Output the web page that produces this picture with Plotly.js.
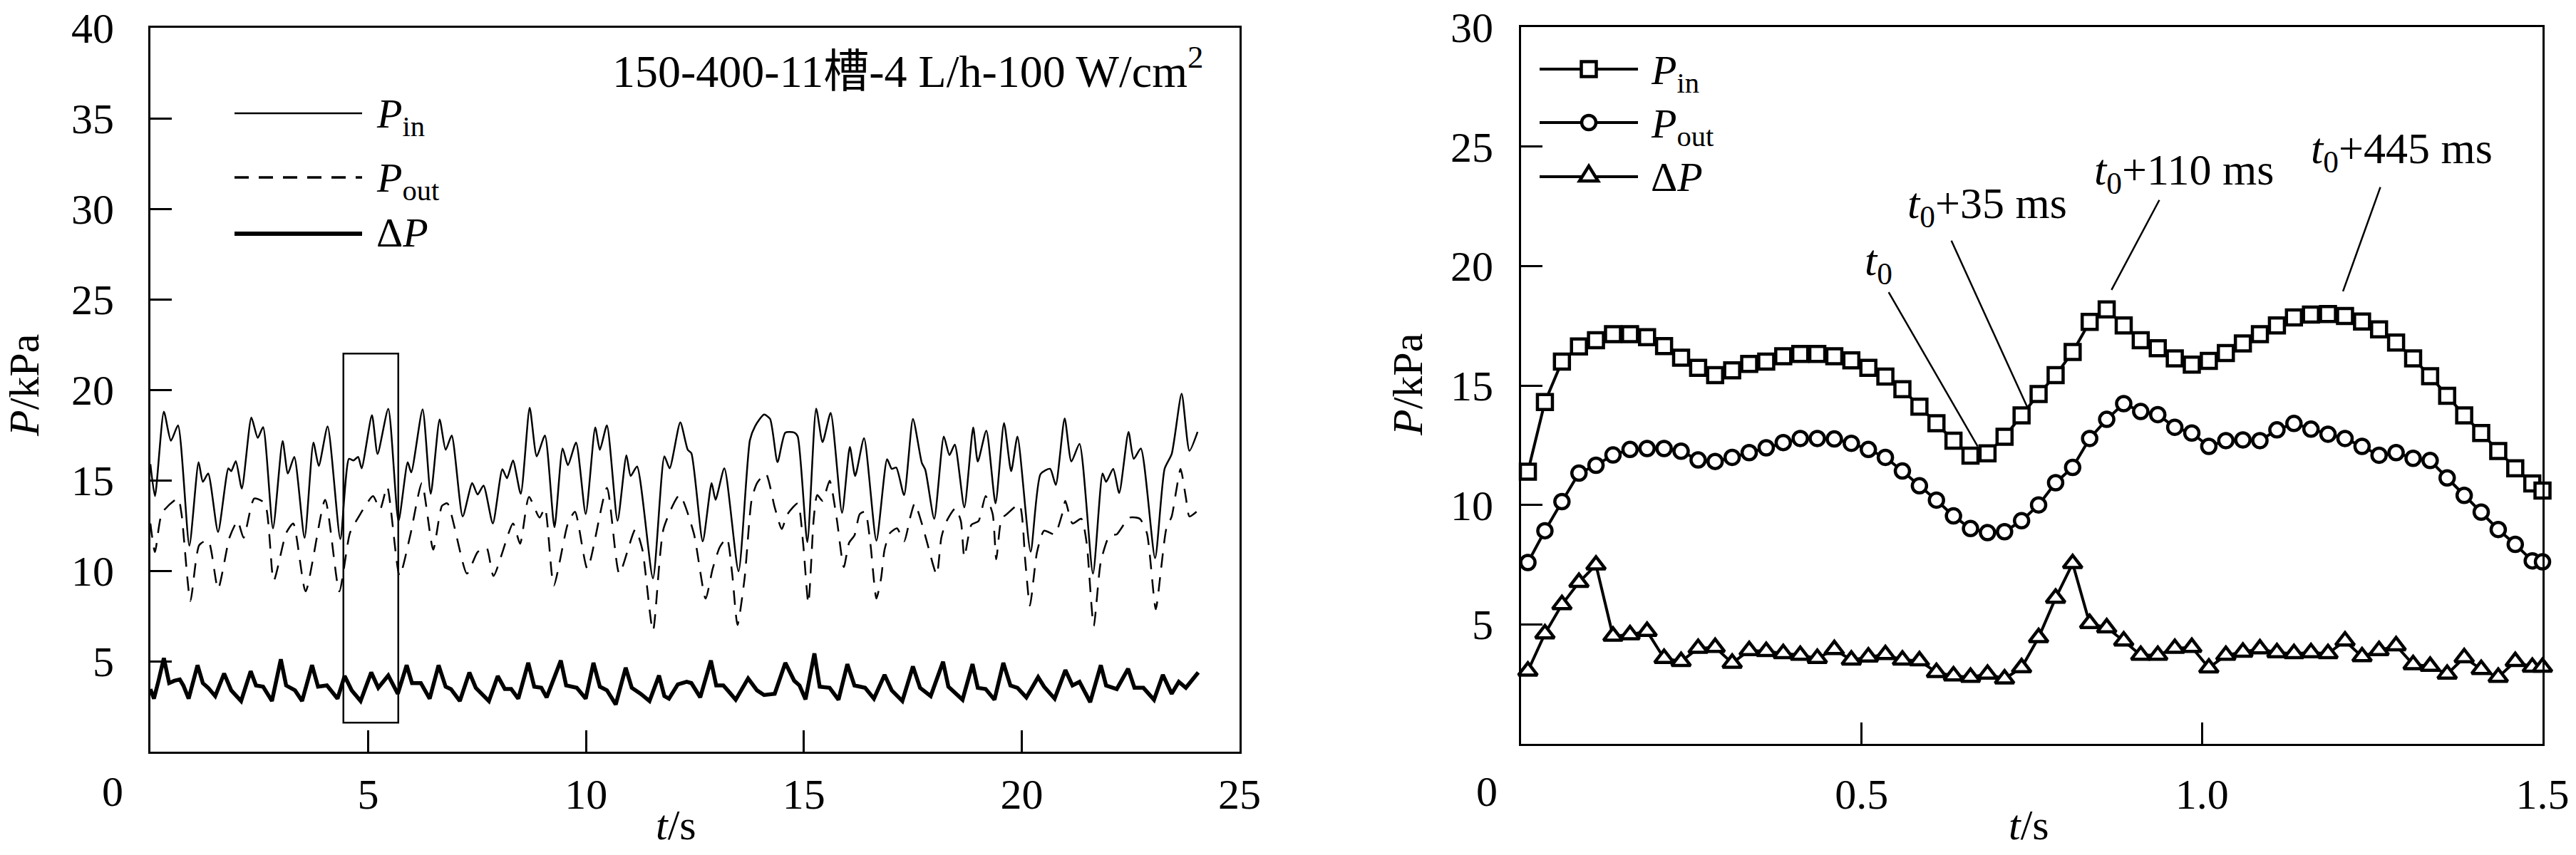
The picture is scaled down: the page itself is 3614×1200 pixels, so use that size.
<!DOCTYPE html>
<html>
<head>
<meta charset="utf-8">
<script src="https://cdn.plot.ly/plotly-3.0.1.min.js"></script>
<style>
  html, body { margin: 0; padding: 0; background: #fff; }
  #chart { width: 3614px; height: 1200px; }
</style>
</head>
<body>
<div id="chart"></div>
<script>
// ---- left panel: 24 s record (peaks and troughs) ----
const pinT = [0, 0.105, 0.309, 0.471, 0.634, 0.894, 1.106, 1.204, 1.326, 1.553, 1.790, 1.855, 1.960, 2.099, 2.318, 2.464, 2.587, 2.814, 3.035, 3.156, 3.303, 3.539, 3.742, 3.865, 4.068, 4.360, 4.557, 4.661, 4.768, 4.849, 5.085, 5.214, 5.460, 5.695, 5.906, 5.988, 6.248, 6.435, 6.639, 6.777, 6.916, 7.168, 7.387, 7.510, 7.647, 7.860, 8.079, 8.185, 8.323, 8.501, 8.706, 8.868, 9.056, 9.275, 9.462, 9.584, 9.771, 9.992, 10.211, 10.317, 10.479, 10.723, 10.926, 11.024, 11.171, 11.536, 11.798, 11.919, 12.163, 12.335, 12.418, 12.678, 12.882, 12.972, 13.175, 13.500, 13.761, 13.883, 14.086, 14.224, 14.395, 14.574, 14.778, 14.859, 15.079, 15.282, 15.429, 15.615, 15.876, 16.055, 16.177, 16.381, 16.665, 16.910, 17.016, 17.121, 17.300, 17.504, 17.707, 17.788, 17.992, 18.212, 18.341, 18.464, 18.683, 18.887, 18.992, 19.188, 19.399, 19.594, 19.758, 19.903, 20.205, 20.432, 20.652, 20.782, 20.986, 21.140, 21.327, 21.636, 21.856, 21.937, 22.100, 22.238, 22.451, 22.572, 22.735, 23.061, 23.280, 23.443, 23.671, 23.850, 24.037];
const pinV = [15.89, 14.12, 18.79, 17.18, 18.03, 11.39, 15.99, 14.91, 15.37, 12.14, 15.66, 15.5, 16.05, 14.54, 18.46, 17.34, 17.93, 12.34, 17.17, 15.37, 16.29, 11.82, 17.08, 15.79, 17.97, 11.75, 16.18, 16.09, 16.29, 15.66, 18.59, 16.45, 18.95, 12.74, 15.99, 15.43, 18.92, 14.25, 18.36, 16.68, 17.47, 13.0, 14.84, 14.21, 14.71, 12.61, 15.61, 15.11, 16.09, 14.25, 19.01, 16.32, 17.47, 12.41, 16.75, 15.83, 17.08, 13.13, 17.91, 16.68, 18.03, 12.76, 16.38, 15.24, 15.76, 9.58, 16.32, 15.66, 18.2, 16.68, 16.49, 11.62, 14.84, 13.92, 15.66, 9.97, 17.21, 18.0, 18.63, 18.39, 16.0, 17.63, 17.63, 17.41, 11.58, 18.96, 17.11, 18.72, 13.2, 16.84, 15.24, 17.32, 11.66, 16.16, 15.63, 15.7, 14.18, 18.39, 15.96, 15.57, 12.87, 17.41, 16.39, 16.97, 13.5, 17.91, 16.03, 17.74, 13.72, 18.16, 15.5, 17.41, 11.05, 15.34, 15.63, 14.74, 18.42, 16.03, 17.01, 9.84, 15.37, 14.91, 15.63, 14.29, 17.67, 16.18, 16.75, 10.7, 15.63, 16.45, 19.78, 16.62, 17.67];

const poutT = [0, 0.105, 0.268, 0.634, 0.715, 0.919, 1.122, 1.326, 1.553, 1.814, 2.001, 2.14, 2.384, 2.628, 2.831, 3.116, 3.279, 3.563, 4.011, 4.336, 4.58, 4.768, 5.11, 5.272, 5.435, 5.72, 5.964, 6.232, 6.492, 6.695, 6.818, 7.266, 7.51, 7.713, 7.876, 8.323, 8.486, 8.689, 8.933, 9.056, 9.259, 9.584, 9.747, 10.031, 10.479, 10.764, 11.13, 11.293, 11.536, 11.781, 12.147, 12.472, 12.744, 12.906, 13.069, 13.232, 13.354, 13.476, 13.639, 13.801, 13.924, 14.126, 14.331, 14.493, 14.616, 14.859, 14.981, 15.103, 15.226, 15.306, 15.429, 15.591, 15.754, 15.916, 16.039, 16.161, 16.283, 16.405, 16.527, 16.665, 16.772, 16.852, 16.975, 17.137, 17.300, 17.446, 17.544, 17.707, 17.829, 18.048, 18.155, 18.261, 18.480, 18.603, 18.683, 18.846, 19.009, 19.172, 19.334, 19.416, 19.537, 19.660, 19.944, 20.083, 20.188, 20.352, 20.514, 20.758, 20.921, 21.002, 21.165, 21.368, 21.490, 21.653, 21.816, 22.019, 22.182, 22.467, 22.711, 22.873, 23.077, 23.199, 23.321, 23.443, 23.549, 23.647, 23.768, 23.850, 24.013];
const poutV = [12.61, 11.03, 13.2, 13.99, 13.13, 8.33, 11.42, 11.68, 8.99, 11.82, 12.74, 11.82, 13.99, 13.72, 9.45, 12.08, 12.61, 8.86, 13.92, 8.86, 12.08, 12.93, 14.12, 13.39, 14.64, 9.71, 11.95, 14.84, 11.16, 13.59, 13.72, 9.84, 11.03, 11.29, 9.71, 12.61, 11.49, 14.08, 12.93, 13.46, 9.18, 12.61, 13.26, 10.11, 14.58, 9.84, 12.28, 11.16, 6.68, 12.34, 14.18, 12.08, 8.46, 10.1, 11.3, 11.8, 9.84, 7.0, 9.58, 13.92, 14.84, 15.37, 13.5, 12.3, 13.1, 13.72, 11.55, 8.2, 12.87, 14.18, 13.86, 14.97, 12.87, 10.2, 11.55, 11.95, 13.13, 13.26, 11.49, 8.46, 9.58, 11.16, 12.08, 12.34, 11.62, 13.0, 13.72, 12.61, 11.55, 9.78, 11.82, 12.67, 13.46, 12.74, 10.76, 12.54, 12.74, 14.12, 13.13, 10.63, 12.87, 13.13, 13.66, 10.5, 8.07, 11.03, 12.21, 12.01, 13.07, 13.86, 12.61, 12.87, 11.55, 6.95, 10.5, 11.95, 12.01, 12.93, 12.87, 12.08, 7.87, 10.1, 12.34, 13.0, 14.45, 15.63, 14.05, 13.0, 13.26];

const dpT = [0, 0.081, 0.187, 0.309, 0.431, 0.553, 0.675, 0.756, 0.878, 1.082, 1.204, 1.326, 1.488, 1.692, 1.855, 2.082, 2.302, 2.424, 2.587, 2.790, 2.994, 3.116, 3.319, 3.482, 3.710, 3.848, 4.052, 4.295, 4.458, 4.621, 4.825, 5.069, 5.231, 5.46, 5.679, 5.882, 6.005, 6.208, 6.411, 6.615, 6.777, 6.899, 7.103, 7.322, 7.469, 7.770, 7.973, 8.136, 8.282, 8.445, 8.673, 8.811, 8.974, 9.096, 9.421, 9.543, 9.787, 9.992, 10.170, 10.317, 10.479, 10.682, 10.910, 11.049, 11.252, 11.456, 11.675, 11.798, 11.903, 12.106, 12.310, 12.418, 12.621, 12.866, 12.988, 13.151, 13.273, 13.435, 13.720, 13.924, 14.086, 14.331, 14.574, 14.778, 14.900, 15.038, 15.242, 15.363, 15.591, 15.795, 15.998, 16.161, 16.405, 16.608, 16.852, 17.016, 17.260, 17.503, 17.667, 17.911, 18.195, 18.317, 18.642, 18.871, 18.992, 19.172, 19.375, 19.578, 19.741, 19.903, 20.107, 20.377, 20.514, 20.757, 21.003, 21.165, 21.327, 21.572, 21.816, 21.937, 22.182, 22.442, 22.588, 22.793, 23.037, 23.240, 23.443, 23.606, 23.768, 24.053];
const dpV = [3.46, 2.93, 3.92, 5.17, 3.79, 3.92, 3.99, 3.66, 2.93, 4.78, 3.79, 3.53, 3.07, 4.32, 3.39, 2.8, 4.45, 3.66, 3.59, 2.8, 5.11, 3.66, 3.39, 2.8, 4.78, 3.59, 3.66, 2.93, 4.18, 3.39, 2.8, 4.38, 3.53, 4.21, 3.2, 4.78, 3.79, 3.79, 2.93, 4.78, 3.59, 3.46, 2.8, 4.38, 3.53, 2.8, 4.18, 3.46, 3.46, 2.93, 4.91, 3.59, 3.53, 3.0, 5.04, 3.66, 3.53, 2.93, 4.91, 3.59, 3.39, 2.61, 4.64, 3.53, 3.2, 2.8, 4.21, 3.07, 2.93, 3.72, 3.86, 3.79, 3.0, 5.04, 3.66, 3.66, 3.33, 2.87, 4.05, 3.39, 3.13, 3.2, 4.91, 3.92, 3.66, 2.89, 5.43, 3.59, 3.53, 2.87, 4.84, 3.66, 3.53, 2.93, 4.25, 3.39, 2.8, 4.71, 3.53, 3.07, 4.97, 3.59, 2.87, 4.84, 3.53, 3.46, 2.87, 4.91, 3.66, 3.53, 3.0, 4.12, 3.59, 2.93, 4.51, 3.66, 3.86, 2.74, 4.78, 3.66, 3.46, 4.58, 3.53, 3.53, 2.87, 4.25, 3.2, 3.86, 3.53, 4.38];

// ---- right panel: 1.5 s zoom, one sample every 25 ms ----
const tRight = [0.010, 0.035, 0.060, 0.085, 0.110, 0.135, 0.160, 0.185, 0.210, 0.235, 0.260, 0.285, 0.310, 0.335, 0.360, 0.385, 0.410, 0.435, 0.460, 0.485, 0.510, 0.535, 0.560, 0.585, 0.610, 0.635, 0.660, 0.685, 0.710, 0.735, 0.760, 0.785, 0.810, 0.835, 0.860, 0.885, 0.910, 0.935, 0.960, 0.985, 1.010, 1.035, 1.060, 1.085, 1.110, 1.135, 1.160, 1.185, 1.210, 1.235, 1.260, 1.285, 1.310, 1.335, 1.360, 1.385, 1.410, 1.435, 1.460, 1.485, 1.500];
const pinRight = [11.39, 14.31, 16.0, 16.63, 16.89, 17.15, 17.15, 17.02, 16.65, 16.16, 15.74, 15.43, 15.63, 15.9, 16.0, 16.22, 16.32, 16.32, 16.22, 16.05, 15.74, 15.37, 14.84, 14.11, 13.42, 12.69, 12.06, 12.16, 12.85, 13.75, 14.64, 15.43, 16.4, 17.66, 18.18, 17.51, 16.89, 16.56, 16.13, 15.87, 16.03, 16.36, 16.76, 17.15, 17.51, 17.85, 17.97, 17.99, 17.91, 17.68, 17.35, 16.8, 16.13, 15.39, 14.57, 13.75, 13.01, 12.26, 11.53, 10.9, 10.6];
const poutRight = [7.59, 8.92, 10.14, 11.33, 11.66, 12.09, 12.32, 12.36, 12.36, 12.25, 11.88, 11.82, 11.99, 12.19, 12.39, 12.61, 12.78, 12.78, 12.76, 12.58, 12.32, 11.99, 11.42, 10.8, 10.2, 9.54, 9.01, 8.84, 8.88, 9.34, 10.0, 10.93, 11.57, 12.78, 13.58, 14.24, 13.91, 13.78, 13.25, 13.01, 12.45, 12.69, 12.72, 12.69, 13.14, 13.41, 13.17, 12.96, 12.78, 12.45, 12.08, 12.19, 11.95, 11.86, 11.13, 10.4, 9.7, 8.97, 8.35, 7.66, 7.62];
const dpRight = [3.05, 4.61, 5.83, 6.76, 7.49, 4.51, 4.57, 4.71, 3.58, 3.45, 4.0, 4.04, 3.38, 3.91, 3.87, 3.78, 3.71, 3.58, 3.95, 3.51, 3.64, 3.74, 3.51, 3.48, 2.99, 2.85, 2.79, 2.92, 2.72, 3.19, 4.45, 6.1, 7.55, 5.04, 4.86, 4.31, 3.71, 3.71, 4.0, 4.04, 3.18, 3.71, 3.84, 3.98, 3.82, 3.78, 3.82, 3.78, 4.31, 3.65, 3.91, 4.11, 3.32, 3.25, 2.92, 3.61, 3.12, 2.79, 3.45, 3.21, 3.21];

// tick labels
const leftXTicks = [5, 10, 15, 20, 25];
const leftYTicks = [5, 10, 15, 20, 25, 30, 35, 40];
const rightXTicks = [0.5, 1.0, 1.5];
const rightXText = ['0.5', '1.0', '1.5'];
const rightYTicks = [5, 10, 15, 20, 25, 30];

// boxed window on the left panel (t, P)
const boxT = [4.43, 5.69];
const boxP = [1.6, 22.0];

// callouts on the right panel
const calloutText = ['<i>t</i><sub>0</sub>', '<i>t</i><sub>0</sub>+35 ms', '<i>t</i><sub>0</sub>+110 ms', '<i>t</i><sub>0</sub>+445 ms'];
const calloutT = [0.5245, 0.6842, 0.974, 1.2928];
const calloutP = [20.1, 22.5, 23.9, 24.8];
const leaderT0 = [0.5398, 0.6319, 0.9373, 1.2619];
const leaderP0 = [18.9, 21.06, 22.76, 23.30];
const leaderT1 = [0.6706, 0.7431, 0.8671, 1.2070];
const leaderP1 = [12.45, 14.11, 19.0, 18.94];

const W = 3614, H = 1200;
const FONT = '"Liberation Serif", "Times New Roman", "Noto Sans CJK SC", serif';
const px = x => x / W;
const py = y => 1 - y / H;

const data = [
  { x: pinT, y: pinV, xaxis: 'x', yaxis: 'y', mode: 'lines', name: 'P_in',
    line: { color: '#000', width: 2.5, shape: 'spline', smoothing: 0.6 } },
  { x: poutT, y: poutV, xaxis: 'x', yaxis: 'y', mode: 'lines', name: 'P_out',
    line: { color: '#000', width: 2.5, dash: '20px,14px', shape: 'spline', smoothing: 0.6 } },
  { x: dpT, y: dpV, xaxis: 'x', yaxis: 'y', mode: 'lines', name: 'dP',
    line: { color: '#000', width: 5.5 } },
  { x: tRight, y: dpRight, xaxis: 'x2', yaxis: 'y2', mode: 'lines+markers', cliponaxis: false,
    line: { color: '#000', width: 4 },
    marker: { symbol: 'triangle-up', size: 23, color: '#fff', line: { color: '#000', width: 4.5 } } },
  { x: tRight, y: poutRight, xaxis: 'x2', yaxis: 'y2', mode: 'lines+markers', cliponaxis: false,
    line: { color: '#000', width: 4 },
    marker: { symbol: 'circle', size: 20, color: '#fff', line: { color: '#000', width: 4.5 } } },
  { x: tRight, y: pinRight, xaxis: 'x2', yaxis: 'y2', mode: 'lines+markers', cliponaxis: false,
    line: { color: '#000', width: 4 },
    marker: { symbol: 'square', size: 21, color: '#fff', line: { color: '#000', width: 4.5 } } }
];

function axisStyle(extra) {
  return Object.assign({
    showline: true, mirror: true, linecolor: '#000', linewidth: 3,
    ticks: 'inside', ticklen: 30, tickwidth: 3, tickcolor: '#000',
    showgrid: false, zeroline: false, fixedrange: true,
    tickfont: { family: FONT, size: 60, color: '#000' }
  }, extra);
}

const shapes = [];
const annotations = [];

// box on the left panel
shapes.push({ type: 'rect', xref: 'x', yref: 'y', x0: boxT[0], x1: boxT[1], y0: boxP[0], y1: boxP[1],
  line: { color: '#000', width: 2.5 } });

// leader lines on the right panel
for (let i = 0; i < calloutText.length; i++) {
  shapes.push({ type: 'line', xref: 'x2', yref: 'y2', x0: leaderT0[i], y0: leaderP0[i], x1: leaderT1[i], y1: leaderP1[i],
    line: { color: '#000', width: 2.5 } });
  annotations.push({ xref: 'x2', yref: 'y2', x: calloutT[i], y: calloutP[i], text: calloutText[i],
    showarrow: false, xanchor: 'center', yanchor: 'middle', font: { family: FONT, size: 62, color: '#000' } });
}

// left legend (long line keys)
const leftKeys = [
  { y: 159, dash: 'solid', width: 2.5, text: '<i>P</i><sub>in</sub>' },
  { y: 249, dash: '20px,14px', width: 3.5, text: '<i>P</i><sub>out</sub>' },
  { y: 328, dash: 'solid', width: 6, text: 'Δ<i>P</i>' }
];
leftKeys.forEach(k => {
  shapes.push({ type: 'line', xref: 'paper', yref: 'paper', x0: px(329), x1: px(508), y0: py(k.y), y1: py(k.y),
    line: { color: '#000', width: k.width, dash: k.dash } });
  annotations.push({ xref: 'paper', yref: 'paper', x: px(526), y: py(k.y), yshift: k.text.includes('sub') ? -4 : 2,
    text: k.text, showarrow: false, xanchor: 'left', yanchor: 'middle',
    font: { family: FONT, size: 58, color: '#000' } });
});

// right legend (line + marker keys)
const rightKeys = [
  { y: 97, sym: 'square', text: '<i>P</i><sub>in</sub>' },
  { y: 172, sym: 'circle', text: '<i>P</i><sub>out</sub>' },
  { y: 248, sym: 'triangle', text: 'Δ<i>P</i>' }
];
rightKeys.forEach(k => {
  shapes.push({ type: 'line', xref: 'paper', yref: 'paper', x0: px(2160), x1: px(2298), y0: py(k.y), y1: py(k.y),
    line: { color: '#000', width: 4 } });
  const base = { xref: 'paper', yref: 'paper', xsizemode: 'pixel', ysizemode: 'pixel',
    xanchor: px(2229), yanchor: py(k.y), fillcolor: '#fff', line: { color: '#000', width: 4.5 } };
  if (k.sym === 'square') shapes.push(Object.assign({ type: 'rect', x0: -10.5, x1: 10.5, y0: -10.5, y1: 10.5 }, base));
  if (k.sym === 'circle') shapes.push(Object.assign({ type: 'circle', x0: -10, x1: 10, y0: -10, y1: 10 }, base));
  if (k.sym === 'triangle') shapes.push(Object.assign({ type: 'path', path: 'M-13,-6 L13,-6 L0,15 Z' }, base));
  annotations.push({ xref: 'paper', yref: 'paper', x: px(2314), y: py(k.y), yshift: k.text.includes('sub') ? -6 : 0,
    text: k.text, showarrow: false, xanchor: 'left', yanchor: 'middle',
    font: { family: FONT, size: 58, color: '#000' } });
});

// condition label
annotations.push({ xref: 'paper', yref: 'paper', x: px(1690), y: py(96), xanchor: 'right', yanchor: 'middle',
  text: '150-400-11槽-4 L/h-100 W/cm<sup>2</sup>', showarrow: false,
  font: { family: FONT, size: 64, color: '#000' } });

// corner zeros
annotations.push({ xref: 'x', yref: 'y', x: 0, y: 0, xanchor: 'right', yanchor: 'middle', xshift: -36, yshift: -56,
  text: '0', showarrow: false, font: { family: FONT, size: 60, color: '#000' } });
annotations.push({ xref: 'x2', yref: 'y2', x: 0, y: 0, xanchor: 'right', yanchor: 'middle', xshift: -31, yshift: -67,
  text: '0', showarrow: false, font: { family: FONT, size: 60, color: '#000' } });

// axis titles
[[34, 541], [1975, 540]].forEach(p => annotations.push({ xref: 'paper', yref: 'paper', x: px(p[0]), y: py(p[1]),
  textangle: -90, xanchor: 'center', yanchor: 'middle', text: '<i>P</i>/kPa', showarrow: false,
  font: { family: FONT, size: 60, color: '#000' } }));
[[949, 1158], [2846, 1158]].forEach(p => annotations.push({ xref: 'paper', yref: 'paper', x: px(p[0]), y: py(p[1]),
  xanchor: 'center', yanchor: 'middle', text: '<i>t</i>/s', showarrow: false,
  font: { family: FONT, size: 60, color: '#000' } }));

const layout = {
  width: W, height: H,
  margin: { l: 0, r: 0, t: 0, b: 0 },
  paper_bgcolor: '#fff', plot_bgcolor: '#fff',
  showlegend: false,
  font: { family: FONT, color: '#000' },
  xaxis: axisStyle({ domain: [px(211), px(1739)], range: [0, 25], tickvals: leftXTicks, anchor: 'y', ticklabelstandoff: 5 }),
  yaxis: axisStyle({ domain: [py(1055), py(39)], range: [0, 40], tickvals: leftYTicks, anchor: 'x', ticklabelstandoff: 36 }),
  xaxis2: axisStyle({ domain: [px(2134), px(3567)], range: [0, 1.5], tickvals: rightXTicks, ticktext: rightXText, anchor: 'y2', ticklabelstandoff: 16 }),
  yaxis2: axisStyle({ domain: [py(1044), py(38)], range: [0, 30], tickvals: rightYTicks, anchor: 'x2', ticklabelstandoff: 24 }),
  shapes: shapes,
  annotations: annotations
};

Plotly.newPlot('chart', data, layout, { staticPlot: true, displayModeBar: false });
</script>
</body>
</html>
